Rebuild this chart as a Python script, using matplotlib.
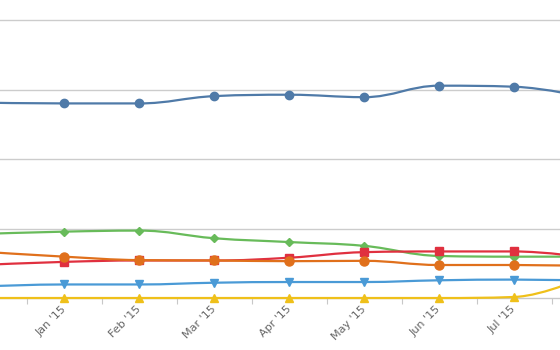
import numpy as np
import matplotlib.pyplot as plt
from matplotlib.path import Path
from matplotlib.patches import PathPatch

# months Dec '14 .. Aug '15 (first and last are cut off by the frame)
months = ["Dec '14", "Jan '15", "Feb '15", "Mar '15", "Apr '15",
          "May '15", "Jun '15", "Jul '15", "Aug '15"]
shown = ["", "Jan '15", "Feb '15", "Mar '15", "Apr '15",
         "May '15", "Jun '15", "Jul '15", ""]

s_blue = [281, 280, 280, 290.5, 292.5, 289, 305.5, 304, 288]
s_green = [92.5, 95.5, 97, 86, 80.5, 75, 60.5, 59.5, 59.5]
s_red = [48, 52, 54, 54, 58, 66, 67, 67, 58]
s_orange = [66, 59.5, 54.5, 54, 53, 53.5, 47.5, 47.5, 46]
s_lblue = [17, 19.5, 19.5, 22, 23, 23, 25.5, 26.5, 25]
s_yellow = [0, 0, 0, 0, 0, 0, 0, 1.5, 33]

grid_vals = [100, 200, 300, 400]


def spline_path(xs, ys, smoothing=1.5):
    # bezier control points, highcharts style spline
    n = len(xs)
    lc = [(xs[i], ys[i]) for i in range(n)]
    rc = [(xs[i], ys[i]) for i in range(n)]
    for i in range(1, n - 1):
        px, py = xs[i], ys[i]
        lx, ly = xs[i - 1], ys[i - 1]
        nx, ny = xs[i + 1], ys[i + 1]
        d = smoothing + 1
        lcx = (smoothing * px + lx) / d
        lcy = (smoothing * py + ly) / d
        rcx = (smoothing * px + nx) / d
        rcy = (smoothing * py + ny) / d
        corr = (rcy - lcy) * (rcx - px) / (rcx - lcx) + py - rcy
        lcy += corr
        rcy += corr
        if lcy > ly and lcy > py:
            lcy = max(ly, py); rcy = 2 * py - lcy
        elif lcy < ly and lcy < py:
            lcy = min(ly, py); rcy = 2 * py - lcy
        if rcy > ny and rcy > py:
            rcy = max(ny, py); lcy = 2 * py - rcy
        elif rcy < ny and rcy < py:
            rcy = min(ny, py); lcy = 2 * py - rcy
        lc[i] = (lcx, lcy)
        rc[i] = (rcx, rcy)
    verts = [(xs[0], ys[0])]
    codes = [Path.MOVETO]
    for i in range(1, n):
        verts += [rc[i - 1], lc[i], (xs[i], ys[i])]
        codes += [Path.CURVE4] * 3
    return Path(verts, codes)


fig = plt.figure(figsize=(5.6, 3.5), dpi=100)
ax = fig.add_axes([0, 0, 1, 1])
# x axis sits at value 0 (do this first, it resets the axis)
ax.spines['bottom'].set_position(('data', 0))
for sp in ax.spines.values():
    sp.set_visible(False)

x = np.arange(len(months))

for g in grid_vals:
    ax.axhline(g, color='#cccccc', lw=1, zorder=0)
ax.axhline(0, color='#c8c8c8', lw=1, zorder=0)

series = [
    (s_blue, '#4f7aa8', 'o', 6),
    (s_green, '#68bb5a', 'D', 4),
    (s_red, '#e0303f', 's', 5.5),
    (s_orange, '#e0701c', 'o', 6.5),
    (s_lblue, '#4a9ad6', 'v', 6),
    (s_yellow, '#efc01a', '^', 6),
]
for i, (vals, col, mk, ms) in enumerate(series):
    ax.add_patch(PathPatch(spline_path(x, vals), fill=False, edgecolor=col,
                           lw=1.6, zorder=2 + i, capstyle='round'))
    ax.plot(x, vals, ls='none', marker=mk, ms=ms, color=col, zorder=2 + i)

# boundary ticks between categories
ax.set_xticks(x + 0.5, minor=True)
ax.tick_params(axis='x', which='minor', length=4.5, width=0.8,
               color='#c8c8c8', direction='out')
ax.set_xticks(x)
ax.set_xticklabels(shown, rotation=45, ha='right', va='center',
                   rotation_mode='anchor')
ax.tick_params(axis='x', which='major', length=0, pad=7, labelsize=8,
               labelcolor='#666666')
ax.set_yticks([])

# frame crops the chart: Jan '15 sits at 64px, 75px per month
# (set after the ticks, set_xticks widens the limits)
ax.set_xlim(0.1427, 7.609)
ax.set_ylim(-74.8, 428.8)

fig.savefig('out.png', dpi=100)
